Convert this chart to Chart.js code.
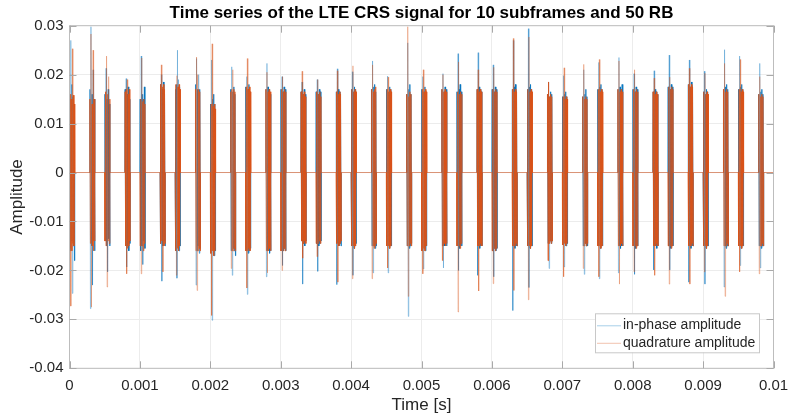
<!DOCTYPE html>
<html>
<head>
<meta charset="utf-8">
<script src="https://cdn.jsdelivr.net/npm/chart.js@4.4.1/dist/chart.umd.min.js"></script>
<style>
  html, body { margin: 0; padding: 0; background: #fff; }
</style>
</head>
<body>
<canvas id="crsChart" width="789" height="416"></canvas>
<script>
// Start time [s] of every CRS OFDM symbol (4 per subframe, 10 subframes)
const burstStart = [
  0, 0.000286, 0.0005, 0.000786,
  0.001, 0.001286, 0.0015, 0.001786,
  0.002, 0.002286, 0.0025, 0.002786,
  0.003, 0.003286, 0.0035, 0.003786,
  0.004, 0.004286, 0.0045, 0.004786,
  0.005, 0.005286, 0.0055, 0.005786,
  0.006, 0.006286, 0.0065, 0.006786,
  0.007, 0.007286, 0.0075, 0.007786,
  0.008, 0.008286, 0.0085, 0.008786,
  0.009, 0.009286, 0.0095, 0.009786
];
const sampleStep = 0.0000075;   // time between samples inside a symbol
const signalEnd = 0.01;

// in-phase samples, one row per CRS symbol
const inPhase = [
  [0.0150, -0.0160, 0.0270, -0.0140, 0.0180, -0.0247, 0.0155, -0.0150, 0.0140, -0.0180],
  [0.0170, -0.0278, 0.0298, -0.0150, 0.0160, -0.0230, 0.0210, -0.0140, 0.0150, -0.0160],
  [0.0160, -0.0140, 0.0213, -0.0150, 0.0150, -0.0203, 0.0170, -0.0135, 0.0140, -0.0150],
  [0.0170, -0.0150, 0.0192, -0.0193, 0.0160, -0.0150, 0.0175, -0.0160, 0.0150, -0.0145],
  [0.0150, -0.0160, 0.0238, -0.0150, 0.0160, -0.0188, 0.0150, -0.0140, 0.0175, -0.0155],
  [0.0180, -0.0145, 0.0200, -0.0222, 0.0170, -0.0150, 0.0185, -0.0140, 0.0160, -0.0150],
  [0.0170, -0.0160, 0.0180, -0.0216, 0.0250, -0.0155, 0.0190, -0.0160, 0.0175, -0.0150],
  [0.0180, -0.0230, 0.0233, -0.0160, 0.0170, -0.0150, 0.0200, -0.0165, 0.0170, -0.0155],
  [0.0140, -0.0165, 0.0230, -0.0302, 0.0150, -0.0160, 0.0160, -0.0170, 0.0140, -0.0160],
  [0.0170, -0.0160, 0.0216, -0.0210, 0.0165, -0.0155, 0.0175, -0.0160, 0.0160, -0.0170],
  [0.0175, -0.0160, 0.0196, -0.0249, 0.0170, -0.0165, 0.0180, -0.0160, 0.0165, -0.0155],
  [0.0170, -0.0213, 0.0223, -0.0160, 0.0175, -0.0155, 0.0170, -0.0165, 0.0160, -0.0160],
  [0.0170, -0.0160, 0.0196, -0.0190, 0.0165, -0.0160, 0.0175, -0.0155, 0.0170, -0.0160],
  [0.0165, -0.0140, 0.0185, -0.0228, 0.0160, -0.0145, 0.0170, -0.0150, 0.0160, -0.0140],
  [0.0165, -0.0145, 0.0190, -0.0202, 0.0160, -0.0150, 0.0170, -0.0145, 0.0165, -0.0140],
  [0.0165, -0.0229, 0.0212, -0.0145, 0.0170, -0.0150, 0.0165, -0.0145, 0.0160, -0.0150],
  [0.0170, -0.0150, 0.0206, -0.0210, 0.0165, -0.0155, 0.0175, -0.0150, 0.0170, -0.0145],
  [0.0170, -0.0150, 0.0228, -0.0205, 0.0175, -0.0150, 0.0180, -0.0155, 0.0165, -0.0150],
  [0.0170, -0.0150, 0.0197, -0.0205, 0.0165, -0.0155, 0.0175, -0.0150, 0.0170, -0.0150],
  [0.0160, -0.0150, 0.0265, -0.0294, 0.0170, -0.0155, 0.0180, -0.0150, 0.0160, -0.0145],
  [0.0170, -0.0160, 0.0196, -0.0197, 0.0165, -0.0155, 0.0175, -0.0160, 0.0165, -0.0150],
  [0.0170, -0.0150, 0.0202, -0.0195, 0.0165, -0.0150, 0.0175, -0.0145, 0.0170, -0.0150],
  [0.0165, -0.0150, 0.0243, -0.0200, 0.0170, -0.0155, 0.0180, -0.0150, 0.0165, -0.0150],
  [0.0170, -0.0210, 0.0245, -0.0150, 0.0175, -0.0155, 0.0170, -0.0150, 0.0165, -0.0150],
  [0.0170, -0.0160, 0.0220, -0.0213, 0.0165, -0.0155, 0.0175, -0.0160, 0.0170, -0.0155],
  [0.0170, -0.0282, 0.0270, -0.0150, 0.0175, -0.0155, 0.0180, -0.0150, 0.0165, -0.0150],
  [0.0170, -0.0150, 0.0294, -0.0235, 0.0175, -0.0155, 0.0180, -0.0150, 0.0170, -0.0150],
  [0.0160, -0.0145, 0.0185, -0.0196, 0.0155, -0.0140, 0.0165, -0.0145, 0.0160, -0.0140],
  [0.0155, -0.0148, 0.0198, -0.0193, 0.0160, -0.0145, 0.0165, -0.0150, 0.0155, -0.0145],
  [0.0155, -0.0150, 0.0210, -0.0208, 0.0160, -0.0145, 0.0170, -0.0150, 0.0155, -0.0150],
  [0.0170, -0.0150, 0.0225, -0.0217, 0.0175, -0.0155, 0.0180, -0.0150, 0.0170, -0.0150],
  [0.0170, -0.0205, 0.0235, -0.0150, 0.0175, -0.0155, 0.0170, -0.0150, 0.0180, -0.0150],
  [0.0170, -0.0150, 0.0202, -0.0208, 0.0165, -0.0155, 0.0175, -0.0150, 0.0170, -0.0150],
  [0.0165, -0.0199, 0.0208, -0.0150, 0.0170, -0.0150, 0.0165, -0.0155, 0.0160, -0.0150],
  [0.0175, -0.0150, 0.0240, -0.0199, 0.0170, -0.0155, 0.0180, -0.0150, 0.0175, -0.0150],
  [0.0180, -0.0224, 0.0230, -0.0150, 0.0175, -0.0155, 0.0185, -0.0150, 0.0175, -0.0150],
  [0.0165, -0.0150, 0.0207, -0.0228, 0.0160, -0.0155, 0.0170, -0.0150, 0.0165, -0.0150],
  [0.0170, -0.0234, 0.0251, -0.0150, 0.0175, -0.0155, 0.0180, -0.0150, 0.0170, -0.0150],
  [0.0170, -0.0150, 0.0238, -0.0190, 0.0175, -0.0155, 0.0180, -0.0150, 0.0170, -0.0150],
  [0.0160, -0.0150, 0.0223, -0.0195, 0.0165, -0.0155, 0.0170, -0.0150, 0.0160, -0.0150]
];

// quadrature samples, one row per CRS symbol
const quadrature = [
  [-0.0155, 0.0160, -0.0273, 0.0150, -0.0160, 0.0253, -0.0145, 0.0158, -0.0150, 0.0140],
  [0.0150, -0.0145, 0.0283, -0.0275, 0.0140, -0.0150, 0.0250, -0.0160, 0.0150, -0.0140],
  [-0.0140, 0.0165, -0.0150, 0.0238, -0.0234, 0.0160, -0.0140, 0.0196, -0.0145, 0.0150],
  [0.0165, -0.0150, 0.0170, -0.0207, 0.0190, -0.0155, 0.0160, -0.0150, 0.0170, -0.0140],
  [-0.0150, 0.0150, -0.0207, 0.0234, -0.0150, 0.0145, -0.0160, 0.0150, -0.0145, 0.0140],
  [0.0180, -0.0145, 0.0220, -0.0140, 0.0175, -0.0203, 0.0180, -0.0150, 0.0170, -0.0145],
  [-0.0160, 0.0180, -0.0210, 0.0198, -0.0155, 0.0175, -0.0160, 0.0180, -0.0150, 0.0170],
  [0.0170, -0.0160, 0.0236, -0.0241, 0.0200, -0.0160, 0.0170, -0.0155, 0.0165, -0.0160],
  [-0.0165, 0.0140, -0.0292, 0.0263, -0.0160, 0.0135, -0.0170, 0.0140, -0.0160, 0.0130],
  [0.0165, -0.0196, 0.0170, -0.0160, 0.0210, -0.0160, 0.0170, -0.0155, 0.0165, -0.0160],
  [-0.0160, 0.0175, -0.0236, 0.0233, -0.0160, 0.0170, -0.0155, 0.0175, -0.0160, 0.0165],
  [0.0170, -0.0160, 0.0205, -0.0205, 0.0165, -0.0160, 0.0170, -0.0155, 0.0165, -0.0160],
  [-0.0160, 0.0170, -0.0200, 0.0196, -0.0160, 0.0165, -0.0155, 0.0170, -0.0160, 0.0165],
  [0.0165, -0.0140, 0.0207, -0.0175, 0.0160, -0.0145, 0.0165, -0.0140, 0.0155, -0.0145],
  [-0.0145, 0.0165, -0.0172, 0.0190, -0.0145, 0.0160, -0.0140, 0.0165, -0.0145, 0.0155],
  [0.0165, -0.0145, 0.0208, -0.0224, 0.0160, -0.0150, 0.0165, -0.0145, 0.0160, -0.0140],
  [-0.0150, 0.0170, -0.0217, 0.0218, -0.0150, 0.0165, -0.0155, 0.0170, -0.0150, 0.0165],
  [0.0170, -0.0217, 0.0220, -0.0150, 0.0165, -0.0155, 0.0170, -0.0150, 0.0175, -0.0145],
  [-0.0150, 0.0170, -0.0195, 0.0195, -0.0150, 0.0165, -0.0155, 0.0170, -0.0150, 0.0165],
  [0.0160, -0.0150, 0.0298, -0.0253, 0.0155, -0.0150, 0.0165, -0.0145, 0.0160, -0.0150],
  [-0.0160, 0.0170, -0.0207, 0.0210, -0.0155, 0.0165, -0.0160, 0.0170, -0.0150, 0.0165],
  [0.0170, -0.0180, 0.0200, -0.0150, 0.0165, -0.0145, 0.0170, -0.0150, 0.0165, -0.0145],
  [-0.0150, 0.0165, -0.0285, 0.0226, -0.0150, 0.0160, -0.0155, 0.0165, -0.0145, 0.0160],
  [0.0170, -0.0150, 0.0210, -0.0242, 0.0165, -0.0150, 0.0170, -0.0145, 0.0165, -0.0150],
  [-0.0160, 0.0170, -0.0227, 0.0215, -0.0155, 0.0165, -0.0160, 0.0170, -0.0155, 0.0165],
  [0.0170, -0.0150, 0.0274, -0.0241, 0.0165, -0.0150, 0.0170, -0.0145, 0.0165, -0.0150],
  [-0.0150, 0.0170, -0.0260, 0.0277, -0.0150, 0.0165, -0.0155, 0.0170, -0.0150, 0.0165],
  [0.0160, -0.0180, 0.0185, -0.0145, 0.0155, -0.0140, 0.0160, -0.0145, 0.0155, -0.0140],
  [-0.0148, 0.0155, -0.0213, 0.0214, -0.0145, 0.0150, -0.0150, 0.0155, -0.0145, 0.0150],
  [0.0155, -0.0196, 0.0221, -0.0150, 0.0150, -0.0145, 0.0155, -0.0150, 0.0150, -0.0145],
  [-0.0150, 0.0170, -0.0213, 0.0231, -0.0150, 0.0165, -0.0155, 0.0170, -0.0150, 0.0165],
  [0.0170, -0.0150, 0.0228, -0.0228, 0.0165, -0.0150, 0.0170, -0.0145, 0.0165, -0.0150],
  [-0.0150, 0.0170, -0.0203, 0.0210, -0.0150, 0.0165, -0.0155, 0.0170, -0.0150, 0.0165],
  [0.0165, -0.0150, 0.0193, -0.0210, 0.0160, -0.0150, 0.0165, -0.0145, 0.0160, -0.0150],
  [-0.0150, 0.0175, -0.0228, 0.0195, -0.0150, 0.0170, -0.0155, 0.0175, -0.0150, 0.0170],
  [0.0180, -0.0150, 0.0213, -0.0228, 0.0175, -0.0150, 0.0180, -0.0145, 0.0175, -0.0150],
  [-0.0150, 0.0165, -0.0203, 0.0203, -0.0150, 0.0160, -0.0155, 0.0165, -0.0150, 0.0160],
  [0.0170, -0.0150, 0.0223, -0.0253, 0.0165, -0.0150, 0.0170, -0.0145, 0.0165, -0.0150],
  [-0.0150, 0.0170, -0.0203, 0.0231, -0.0150, 0.0165, -0.0155, 0.0170, -0.0150, 0.0165],
  [0.0160, -0.0207, 0.0196, -0.0150, 0.0155, -0.0150, 0.0160, -0.0145, 0.0155, -0.0150]
];

const xTickValues = [0, 0.001, 0.002, 0.003, 0.004, 0.005, 0.006, 0.007, 0.008, 0.009, 0.01];
const xTickLabels = ['0', '0.001', '0.002', '0.003', '0.004', '0.005', '0.006', '0.007', '0.008', '0.009', '0.01'];
const yTickValues = [-0.04, -0.03, -0.02, -0.01, 0, 0.01, 0.02, 0.03];
const yTickLabels = ['-0.04', '-0.03', '-0.02', '-0.01', '0', '0.01', '0.02', '0.03'];

const FONT = '"Liberation Sans", Arial, Helvetica, sans-serif';
const textColor = '#262626';
const gridColor = '#ececec';
const axisColor = '#bdbdbd';
const spikeLevel = 0.0185;  // above this the thin outliers are drawn lighter

const blue = { solid: 'rgb(0,114,189)', pale: 'rgba(0,114,189,0.42)', flat: 'rgba(0,114,189,0.1)', legend: 'rgba(0,114,189,0.35)' };
const orange = { solid: 'rgb(217,83,25)', pale: 'rgba(217,83,25,0.42)', flat: 'rgba(217,83,25,0.7)', legend: 'rgba(217,83,25,0.35)' };

// turn the per-symbol samples into (time, amplitude) points, zero between symbols
function buildSeries(rows) {
  const pts = [];
  burstStart.forEach((t0, i) => {
    pts.push({ x: t0, y: 0 });
    rows[i].forEach((v, k) => pts.push({ x: t0 + (k + 0.5) * sampleStep, y: v }));
    pts.push({ x: t0 + rows[i].length * sampleStep, y: 0 });
  });
  pts.push({ x: signalEnd, y: 0 });
  return pts;
}

function segColor(style) {
  return ctx => {
    const a = Math.abs(ctx.p0.parsed.y), b = Math.abs(ctx.p1.parsed.y);
    if (a === 0 && b === 0) return style.flat;
    return Math.max(a, b) > spikeLevel ? style.pale : style.solid;
  };
}

// box around the axes and inward tick marks like matlab
const axesBox = {
  id: 'axesBox',
  afterDatasetsDraw(chart) {
    const { ctx, chartArea: a, scales } = chart;
    const tl = 7;
    ctx.save();
    ctx.strokeStyle = axisColor;
    ctx.lineWidth = 1;
    ctx.strokeRect(a.left, a.top, a.right - a.left, a.bottom - a.top);
    ctx.beginPath();
    xTickValues.forEach(v => {
      const px = Math.round(scales.x.getPixelForValue(v)) + 0.5;
      ctx.moveTo(px, a.bottom); ctx.lineTo(px, a.bottom - tl);
      ctx.moveTo(px, a.top); ctx.lineTo(px, a.top + tl);
    });
    yTickValues.forEach(v => {
      const py = Math.round(scales.y.getPixelForValue(v)) + 0.5;
      ctx.moveTo(a.left, py); ctx.lineTo(a.left + tl, py);
      ctx.moveTo(a.right, py); ctx.lineTo(a.right - tl, py);
    });
    ctx.strokeStyle = '#a9a9a9';
    ctx.stroke();
    ctx.restore();
  }
};

// legend box in the lower right corner of the axes
const boxLegend = {
  id: 'boxLegend',
  afterDraw(chart) {
    const { ctx, chartArea: a } = chart;
    const w = 164, h = 39;
    const x0 = a.right - 14.5 - w, y0 = a.bottom - 16 - h;
    ctx.save();
    ctx.fillStyle = '#fff';
    ctx.fillRect(x0, y0, w, h);
    ctx.strokeStyle = '#c8c8c8';
    ctx.lineWidth = 1;
    ctx.strokeRect(x0 + 0.5, y0 + 0.5, w, h);
    ctx.font = '14px ' + FONT;
    ctx.textBaseline = 'middle';
    ctx.fillStyle = textColor;
    chart.data.datasets.forEach((ds, i) => {
      const yy = y0 + 12 + i * 17.5;
      ctx.beginPath();
      ctx.strokeStyle = ds.legendColor;
      ctx.moveTo(x0 + 2, yy + 0.5);
      ctx.lineTo(x0 + 26, yy + 0.5);
      ctx.stroke();
      ctx.fillText(ds.label, x0 + 28, yy);
    });
    ctx.restore();
  }
};

const ctx = document.getElementById('crsChart').getContext('2d');
const crsChart = new Chart(ctx, {
  type: 'line',
  data: {
    datasets: [
      {
        label: 'in-phase amplitude',
        data: buildSeries(inPhase),
        borderColor: blue.solid,
        legendColor: blue.legend,
        borderWidth: 0.8,
        segment: { borderColor: segColor(blue) },
        order: 2
      },
      {
        label: 'quadrature amplitude',
        data: buildSeries(quadrature),
        borderColor: orange.solid,
        legendColor: orange.legend,
        borderWidth: 0.8,
        segment: { borderColor: segColor(orange) },
        order: 1
      }
    ]
  },
  options: {
    responsive: false,
    animation: false,
    events: [],
    elements: {
      point: { radius: 0 },
      line: { tension: 0, borderJoinStyle: 'bevel' }
    },
    layout: { autoPadding: false, padding: { left: 0, right: 15.5, top: 0, bottom: 0 } },
    plugins: {
      legend: { display: false },
      tooltip: { enabled: false },
      title: {
        display: true,
        fullSize: false,
        text: 'Time series of the LTE CRS signal for 10 subframes and 50 RB',
        color: '#000',
        font: { family: FONT, size: 17, weight: 'bold' },
        padding: { top: 3, bottom: 2.3 }
      }
    },
    scales: {
      x: {
        type: 'linear',
        min: 0,
        max: 0.01,
        afterBuildTicks: s => { s.ticks = xTickValues.map(v => ({ value: v })); },
        afterFit: s => { s.height = 47.7; s.paddingLeft = 0; s.paddingRight = 0; },
        grid: { color: gridColor, drawTicks: false },
        border: { display: false },
        ticks: {
          autoSkip: false,
          maxRotation: 0,
          padding: 9,
          color: textColor,
          font: { family: FONT, size: 15 },
          callback: v => xTickLabels[xTickValues.indexOf(v)]
        },
        title: {
          display: true,
          text: 'Time [s]',
          color: textColor,
          font: { family: FONT, size: 17 },
          padding: { top: 0, bottom: 0 }
        }
      },
      y: {
        min: -0.04,
        max: 0.03,
        afterBuildTicks: s => { s.ticks = yTickValues.map(v => ({ value: v })); },
        afterFit: s => { s.width = 69.5; s.paddingTop = 0; s.paddingBottom = 0; },
        grid: { color: gridColor, drawTicks: false },
        border: { display: false },
        ticks: {
          autoSkip: false,
          padding: 6,
          color: textColor,
          font: { family: FONT, size: 15 },
          callback: v => yTickLabels[yTickValues.indexOf(v)]
        },
        title: {
          display: true,
          text: 'Amplitude',
          color: textColor,
          font: { family: FONT, size: 17 },
          padding: { top: 7, bottom: 0 }
        }
      }
    }
  },
  plugins: [axesBox, boxLegend]
});
</script>
</body>
</html>
